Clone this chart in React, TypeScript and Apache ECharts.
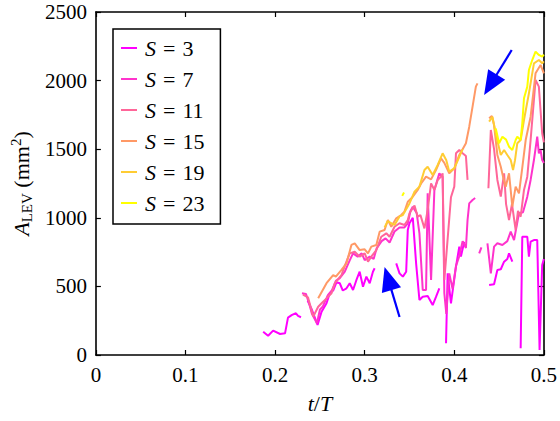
import React, { useEffect, useRef } from 'react';
import * as echarts from 'echarts';

const sValues = [3, 7, 11, 15, 19, 23];
const colors = ['#FF00FF', '#FF33CC', '#FF6699', '#FF9966', '#FFCC33', '#FFFF00'];
const xTickValues = [0, 0.1, 0.2, 0.3, 0.4, 0.5];
const yTickValues = [0, 500, 1000, 1500, 2000, 2500];

// Each series: list of segments (gaps between them); each point [t/T, A_LEV (mm^2)]
const s3 = [
  [[0.1867, 170], [0.1922, 140], [0.1978, 178], [0.2056, 153], [0.2111, 158], [0.2144, 272], [0.2189, 292], [0.2233, 304], [0.2256, 285], [0.2289, 275]],
  [[0.2363, 396], [0.2411, 330], [0.2474, 219], [0.2519, 316], [0.2574, 377], [0.2611, 450], [0.2648, 470], [0.2685, 530], [0.2722, 523], [0.2756, 470], [0.2797, 486], [0.2833, 523], [0.2870, 474], [0.2908, 547], [0.2944, 607], [0.2981, 498], [0.3019, 571], [0.3056, 523], [0.3092, 607], [0.3111, 632]],
  [[0.3352, 668], [0.3389, 595], [0.3426, 571], [0.3463, 607], [0.3481, 911], [0.3500, 960], [0.3537, 1000], [0.3574, 668], [0.3611, 401], [0.3648, 425], [0.3703, 430], [0.3759, 364], [0.3797, 425], [0.3833, 486]],
  [[0.3908, 85], [0.3926, 595], [0.3963, 377], [0.4019, 644], [0.4056, 790], [0.4074, 717], [0.4111, 826]],
  [[0.4389, 510], [0.4444, 515], [0.4481, 620], [0.4519, 625], [0.4556, 680], [0.4592, 700], [0.4611, 741], [0.4648, 680]],
  [[0.4741, 49], [0.4759, 862], [0.4815, 862], [0.4833, 717], [0.4852, 826], [0.4889, 838], [0.4926, 838], [0.4952, 36], [0.4981, 656], [0.5, 700]],
];
const s7 = [
  [[0.2300, 450], [0.2344, 445], [0.2378, 380], [0.2411, 300], [0.2467, 231], [0.2500, 330], [0.2533, 355], [0.2589, 437], [0.2633, 470], [0.2678, 540], [0.2722, 560], [0.2778, 607], [0.2833, 690], [0.2870, 741], [0.2922, 717], [0.2967, 741], [0.3000, 692], [0.3056, 717], [0.3100, 700], [0.3133, 777], [0.3189, 830], [0.3233, 850], [0.3278, 820], [0.3333, 900], [0.3389, 930], [0.3444, 930], [0.3481, 960], [0.3511, 1050], [0.3537, 1081], [0.3581, 1033], [0.3611, 887], [0.3648, 474], [0.3685, 474], [0.3703, 1178], [0.3741, 547], [0.3778, 1203], [0.3833, 1324], [0.3870, 1300], [0.3889, 450], [0.3911, 300], [0.3944, 595], [0.3981, 480], [0.4019, 650], [0.4056, 720], [0.4093, 830], [0.4130, 780], [0.4148, 984], [0.4167, 1105], [0.4204, 1130], [0.4233, 1144]],
  [[0.4278, 741], [0.4303, 785]],
  [[0.4370, 814], [0.4408, 595], [0.4444, 790], [0.4481, 814], [0.4537, 802], [0.4592, 830], [0.4630, 899], [0.4667, 838], [0.4722, 1033], [0.4767, 1040], [0.4815, 1154], [0.4852, 1276], [0.4889, 1421], [0.4926, 1591], [0.4944, 1470], [0.4963, 1494], [0.4981, 1421], [0.5, 1400]],
];
const s11 = [
  [[0.2311, 440], [0.2367, 420], [0.2426, 280], [0.2481, 352], [0.2519, 377], [0.2574, 413], [0.2630, 450], [0.2667, 523], [0.2741, 583], [0.2778, 650], [0.2833, 741], [0.2889, 753], [0.2944, 717], [0.3000, 741], [0.3037, 680], [0.3078, 720], [0.3130, 765], [0.3185, 862], [0.3241, 887], [0.3278, 862], [0.3333, 935], [0.3389, 960], [0.3444, 948], [0.3481, 984], [0.3500, 1033], [0.3556, 1090], [0.3592, 1008], [0.3622, 1020], [0.3667, 923], [0.3703, 1057], [0.3741, 1251], [0.3778, 1203], [0.3815, 1276], [0.3852, 1300], [0.3870, 1324], [0.3889, 547], [0.3908, 700], [0.3963, 1150], [0.4000, 1227], [0.4019, 1470], [0.4056, 1494], [0.4093, 1470], [0.4130, 1450], [0.4148, 1276]],
  [[0.4381, 1215], [0.4408, 1640], [0.4444, 1500], [0.4481, 1276], [0.4519, 1154], [0.4556, 1324], [0.4578, 1100], [0.4611, 984], [0.4644, 1100], [0.4685, 911], [0.4711, 1050], [0.4741, 1008], [0.4778, 1203], [0.4815, 1300], [0.4852, 1567], [0.4907, 2004], [0.4944, 1956], [0.4981, 1616], [0.5, 1550]],
];
const s15 = [
  [[0.2481, 413], [0.2574, 523], [0.2648, 583], [0.2678, 571], [0.2741, 620], [0.2797, 668], [0.2852, 802], [0.2889, 814], [0.2944, 765], [0.3000, 770], [0.3037, 741], [0.3074, 790], [0.3130, 802], [0.3167, 899], [0.3222, 911], [0.3259, 984], [0.3297, 935], [0.3352, 996], [0.3408, 1020], [0.3444, 1045], [0.3481, 1117], [0.3533, 1150], [0.3592, 1203], [0.3630, 1250], [0.3685, 1300], [0.3741, 1280], [0.3797, 1350], [0.3852, 1433], [0.3889, 1400], [0.3944, 1324], [0.4000, 1360], [0.4056, 1458], [0.4093, 1500], [0.4130, 1543], [0.4167, 1664], [0.4204, 1810], [0.4241, 1956], [0.4259, 1980]],
  [[0.4389, 1725], [0.4419, 1742], [0.4444, 1676], [0.4481, 1458], [0.4519, 1372], [0.4544, 1300], [0.4574, 1227], [0.4611, 1324], [0.4648, 1081], [0.4685, 1227], [0.4722, 1178], [0.4756, 1350], [0.4797, 1567], [0.4852, 1737], [0.4907, 2053], [0.4963, 2114], [0.5, 2053]],
];
const s19 = [
  [[0.3222, 930], [0.3256, 975], [0.3300, 960], [0.3333, 948], [0.3389, 1010], [0.3426, 1020], [0.3500, 1105], [0.3556, 1190], [0.3611, 1227], [0.3667, 1348], [0.3703, 1372], [0.3759, 1312], [0.3815, 1385], [0.3870, 1470], [0.3911, 1420], [0.3944, 1336], [0.4000, 1360], [0.4056, 1445], [0.4093, 1500]],
  [[0.4389, 1701], [0.4426, 1737], [0.4467, 1600], [0.4519, 1458], [0.4556, 1494], [0.4592, 1458], [0.4630, 1421], [0.4656, 1348], [0.4678, 1420], [0.4703, 1543], [0.4741, 1567], [0.4778, 1713], [0.4833, 1907], [0.4889, 2126], [0.4944, 2150], [0.4981, 2126], [0.5, 2140]],
];
const s23 = [
  [[0.3419, 1160], [0.3439, 1185]],
  [[0.4463, 1652], [0.4500, 1543], [0.4537, 1591], [0.4578, 1570], [0.4611, 1518], [0.4648, 1494], [0.4685, 1567], [0.4703, 1591], [0.4741, 1567], [0.4759, 1689], [0.4778, 1871], [0.4815, 1956], [0.4833, 2077], [0.4870, 2150], [0.4907, 2211], [0.4944, 2187], [0.4981, 2174], [0.5, 2190]],
];
const allSeries = [s3, s7, s11, s15, s19, s23];

// annotation arrows in data coordinates: [tail, tip]
const arrows = [
  [[0.3389, 277], [0.3222, 641]],
  [[0.4641, 2223], [0.4333, 1895]],
];

const FONT = "'Liberation Serif', 'DejaVu Serif', serif";

function joinSegments(segs: number[][][]) {
  const out: any[] = [];
  segs.forEach((seg, i) => {
    if (i > 0) {
      const prev = segs[i - 1][segs[i - 1].length - 1][0];
      out.push([(prev + seg[0][0]) / 2, '-']);
    }
    seg.forEach((p) => out.push(p));
  });
  return out;
}

export default function App() {
  const ref = useRef<HTMLDivElement>(null);
  useEffect(() => {
    document.body.style.margin = '0';
    const chart = echarts.init(ref.current!, null, { renderer: 'svg' });
    const axisCommon = {
      type: 'value',
      axisLine: { show: true, onZero: false, lineStyle: { color: '#000', width: 1.6 } },
      axisTick: { show: true, inside: true, length: 5, lineStyle: { color: '#000', width: 1.2 } },
      splitLine: { show: false },
    };
    const option: any = {
      animation: false,
      backgroundColor: '#fff',
      grid: { left: 95, right: 15, top: 12, bottom: 66, containLabel: false },
      legend: {
        orient: 'vertical',
        left: 113,
        top: 29,
        backgroundColor: '#fff',
        borderColor: '#000',
        borderWidth: 1.5,
        borderRadius: 0,
        padding: [8, 16, 10, 8],
        itemGap: 9,
        itemWidth: 16,
        itemHeight: 2,
        icon: 'rect',
        itemStyle: { borderWidth: 0 },
        data: sValues.map((v) => 'S' + v),
        formatter: (name: string) => `{s|S}{e|=}{n|${name.slice(1)}}`,
        textStyle: {
          fontFamily: FONT,
          fontSize: 22,
          color: '#000',
          lineHeight: 20,
          rich: {
            s: { fontFamily: FONT, fontSize: 22, fontStyle: 'italic', color: '#000', lineHeight: 20, padding: [0, 0, 0, 3] },
            e: { fontFamily: FONT, fontSize: 22, color: '#000', lineHeight: 20, padding: [0, 7, 0, 7] },
            n: { fontFamily: FONT, fontSize: 22, color: '#000', lineHeight: 20 },
          },
        },
      },
      xAxis: [
        {
          ...axisCommon,
          position: 'bottom',
          min: 0,
          max: 0.5,
          interval: 0.1,
          name: '{i|t}{n|/}{i|T}',
          nameLocation: 'middle',
          nameGap: 37,
          nameTextStyle: {
            rich: {
              i: { fontFamily: FONT, fontSize: 22, fontStyle: 'italic', color: '#000' },
              n: { fontFamily: FONT, fontSize: 22, color: '#000' },
            },
          },
          axisLabel: {
            margin: 9,
            color: '#000',
            fontFamily: FONT,
            fontSize: 21,
            formatter: (v: number) => (xTickValues.some((t) => Math.abs(t - v) < 1e-9) ? (v === 0 ? '0' : v.toFixed(1)) : ''),
          },
        },
        {
          ...axisCommon,
          position: 'top',
          min: 0,
          max: 0.5,
          interval: 0.1,
          axisLabel: { show: false },
        },
      ],
      yAxis: [
        {
          ...axisCommon,
          position: 'left',
          min: 0,
          max: 2500,
          interval: 500,
          name: '{a|A}{sub|LEV}{n| (mm}{sup|2}{n|)}',
          nameLocation: 'middle',
          nameRotate: 90,
          nameGap: 55,
          nameTextStyle: {
            rich: {
              a: { fontFamily: FONT, fontSize: 22, fontStyle: 'italic', color: '#000', lineHeight: 26, verticalAlign: 'middle' },
              n: { fontFamily: FONT, fontSize: 22, color: '#000', lineHeight: 26, verticalAlign: 'middle' },
              sub: { fontFamily: FONT, fontSize: 15, color: '#000', lineHeight: 15, verticalAlign: 'bottom' },
              sup: { fontFamily: FONT, fontSize: 15, color: '#000', lineHeight: 15, verticalAlign: 'top' },
            },
          },
          axisLabel: {
            margin: 9,
            color: '#000',
            fontFamily: FONT,
            fontSize: 21,
            formatter: (v: number) => (yTickValues.includes(v) ? String(v) : ''),
          },
        },
        {
          ...axisCommon,
          position: 'right',
          min: 0,
          max: 2500,
          interval: 500,
          axisLabel: { show: false },
        },
      ],
      series: allSeries.map((segs, i) => ({
        name: 'S' + sValues[i],
        type: 'line',
        xAxisIndex: 0,
        yAxisIndex: 0,
        data: joinSegments(segs),
        showSymbol: false,
        symbol: 'none',
        connectNulls: false,
        color: colors[i],
        lineStyle: { color: colors[i], width: 2 },
        z: 2 + i,
      })),
    };
    chart.setOption(option);

    const headLen = 24;
    const halfW = 10;
    const graphics: any[] = [];
    arrows.forEach(([tail, tip]) => {
      const a = chart.convertToPixel({ seriesIndex: 0 }, tail) as number[];
      const b = chart.convertToPixel({ seriesIndex: 0 }, tip) as number[];
      const dx = b[0] - a[0];
      const dy = b[1] - a[1];
      const len = Math.hypot(dx, dy);
      const ux = dx / len;
      const uy = dy / len;
      const bx = b[0] - ux * headLen;
      const by = b[1] - uy * headLen;
      const nx = -uy;
      const ny = ux;
      graphics.push({
        type: 'line',
        shape: { x1: a[0], y1: a[1], x2: bx + ux * 2, y2: by + uy * 2 },
        style: { stroke: '#0000FF', lineWidth: 2.2 },
        z: 100,
      });
      graphics.push({
        type: 'polygon',
        shape: {
          points: [
            [b[0], b[1]],
            [bx + nx * halfW, by + ny * halfW],
            [bx - nx * halfW, by - ny * halfW],
          ],
        },
        style: { fill: '#0000FF' },
        z: 100,
      });
    });
    chart.setOption({ graphic: graphics });

    return () => chart.dispose();
  }, []);
  return <div ref={ref} style={{ position: 'fixed', left: 0, top: 0, width: 560, height: 421 }} />;
}
